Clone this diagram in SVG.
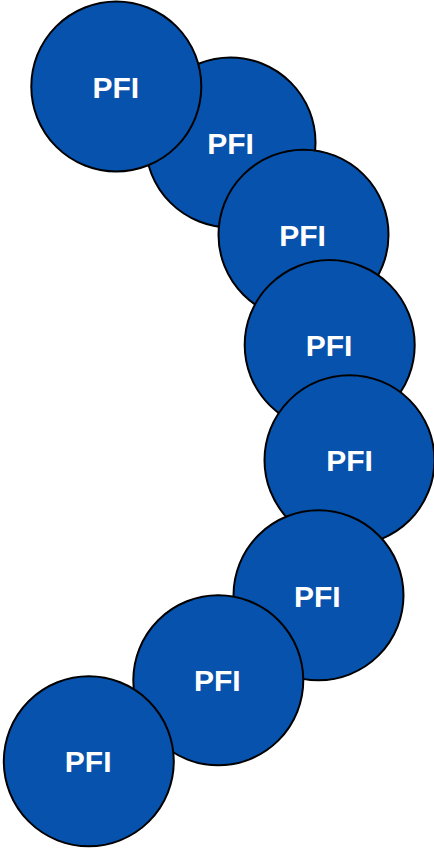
<svg xmlns="http://www.w3.org/2000/svg" width="434" height="850" viewBox="0 0 434 850">
<style>
.c{fill:#0652ac;stroke:#000;stroke-width:2}
.t{fill:#fff;font-family:"Liberation Sans",Arial,sans-serif;font-weight:bold;font-size:30px;text-anchor:middle}
</style>
<rect width="434" height="850" fill="#fff"/>
<g id="connectors"/>
<g id="n2"><circle class="c" cx="230.5" cy="142.5" r="85"/><text class="t" x="230.5" y="154">PFI</text></g>
<g id="n1"><circle class="c" cx="116.3" cy="86.5" r="85"/><text class="t" x="115.8" y="97.5">PFI</text></g>
<g id="n3"><circle class="c" cx="303.5" cy="234.7" r="85"/><text class="t" x="302.5" y="245.5">PFI</text></g>
<g id="n4"><circle class="c" cx="329.7" cy="345" r="85"/><text class="t" x="329" y="356">PFI</text></g>
<g id="n5"><circle class="c" cx="349.5" cy="460.2" r="85"/><text class="t" x="349.5" y="471">PFI</text></g>
<g id="n6"><circle class="c" cx="318.5" cy="595.3" r="85"/><text class="t" x="317.3" y="606.5">PFI</text></g>
<g id="n7"><circle class="c" cx="218.3" cy="680.3" r="85"/><text class="t" x="217.3" y="691.3">PFI</text></g>
<g id="n8"><circle class="c" cx="88.8" cy="761.3" r="85"/><text class="t" x="88.2" y="771.7">PFI</text></g>
</svg>
